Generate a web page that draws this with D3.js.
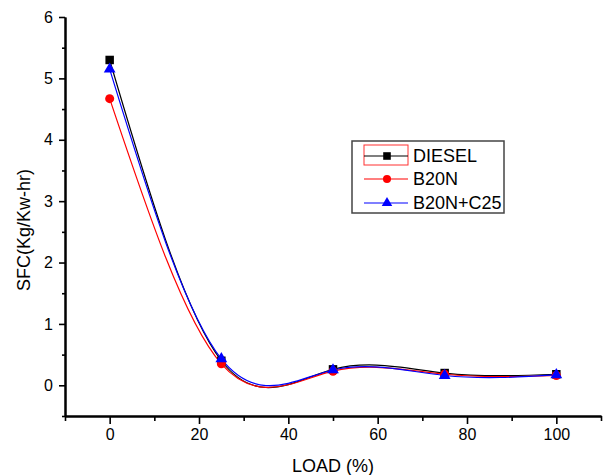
<!DOCTYPE html>
<html>
<head>
<meta charset="utf-8">
<script src="https://cdn.jsdelivr.net/npm/d3@7"></script>
<style>
  body { margin: 0; background: #fff; }
  text { font-family: "Liberation Sans", Arial, sans-serif; fill: #000; }
</style>
</head>
<body>
<div id="chart"></div>
<script>
"use strict";

const loads = [0, 25, 50, 75, 100];
const diesel = [5.3, 0.40, 0.26, 0.20, 0.18];
const b20n = [4.67, 0.35, 0.23, 0.18, 0.16];
const b20nC25 = [5.15, 0.43, 0.25, 0.16, 0.17];
const seriesNames = ["DIESEL", "B20N", "B20N+C25"];
const xMajor = [0, 20, 40, 60, 80, 100];
const xMinor = [-10, 10, 30, 50, 70, 90, 110];
const yMajor = [0, 1, 2, 3, 4, 5, 6];
const yMinor = [-0.5, 0.5, 1.5, 2.5, 3.5, 4.5, 5.5];

const W = 608, H = 475;
const svg = d3.select("#chart").append("svg")
    .attr("width", W).attr("height", H);

const x = d3.scaleLinear().domain([-10, 110]).range([65, 601]);
const y = d3.scaleLinear().domain([-0.5, 6]).range([416, 17]);

// axes
const styleAxis = function(g){
    g.select(".domain").attr("stroke", "#000").attr("stroke-width", 2);
    g.selectAll(".tick line").attr("stroke", "#000").attr("stroke-width", 1.6);
    g.selectAll(".tick text").style("font-size", "16px")
        .style("font-family", "Liberation Sans, Arial, sans-serif");
};

svg.append("g").attr("transform", "translate(0,416)")
    .call(d3.axisBottom(x).tickValues(xMinor).tickSize(5).tickSizeOuter(0).tickFormat(""))
    .call(styleAxis);
svg.append("g").attr("transform", "translate(0,416)")
    .call(d3.axisBottom(x).tickValues(xMajor).tickSize(8).tickSizeOuter(0).tickPadding(5)
        .tickFormat(d3.format("d")))
    .call(styleAxis);

svg.append("g").attr("transform", "translate(65,0)")
    .call(d3.axisLeft(y).tickValues(yMinor).tickSize(3).tickSizeOuter(0).tickFormat(""))
    .call(styleAxis);
svg.append("g").attr("transform", "translate(65,0)")
    .call(d3.axisLeft(y).tickValues(yMajor).tickSize(6).tickSizeOuter(0).tickPadding(6)
        .tickFormat(d3.format("d")))
    .call(styleAxis);

// axis titles
svg.append("text")
    .attr("x", 333).attr("y", 472)
    .attr("text-anchor", "middle")
    .style("font-size", "18px")
    .text("LOAD (%)");

svg.append("text")
    .attr("transform", "translate(30,230) rotate(-90)")
    .attr("text-anchor", "middle")
    .style("font-size", "18px")
    .text("SFC(Kg/Kw-hr)");

// series
const series = [
    {name: seriesNames[0], values: diesel, color: "#000000", symbol: d3.symbolSquare, size: 72},
    {name: seriesNames[1], values: b20n, color: "#ff0000", symbol: d3.symbolCircle, size: 64},
    {name: seriesNames[2], values: b20nC25, color: "#0000ff", symbol: d3.symbolTriangle, size: 60}
];

const line = d3.line()
    .x((d, i) => x(loads[i]))
    .y(d => y(d))
    .curve(d3.curveNatural);

series.forEach(function(s){
    svg.append("path")
        .datum(s.values)
        .attr("d", line)
        .attr("fill", "none")
        .attr("stroke", s.color)
        .attr("stroke-width", 1.2);
});

series.forEach(function(s){
    svg.append("g").selectAll("path")
        .data(s.values)
        .join("path")
        .attr("transform", (d, i) => "translate(" + x(loads[i]) + "," + y(d) + ")")
        .attr("d", d3.symbol().type(s.symbol).size(s.size))
        .attr("fill", s.color);
});

// legend
const legend = svg.append("g");
legend.append("rect")
    .attr("x", 352).attr("y", 141)
    .attr("width", 152).attr("height", 72)
    .attr("fill", "#fff")
    .attr("stroke", "#444")
    .attr("stroke-width", 1.5);

legend.append("rect")
    .attr("x", 364).attr("y", 145)
    .attr("width", 44).attr("height", 20)
    .attr("fill", "none")
    .attr("stroke", "#ff3030")
    .attr("stroke-width", 1);

const legY = [156, 179, 203];
series.forEach(function(s, i){
    legend.append("line")
        .attr("x1", 364).attr("x2", 408)
        .attr("y1", legY[i]).attr("y2", legY[i])
        .attr("stroke", s.color)
        .attr("stroke-width", 1.2);
    legend.append("path")
        .attr("transform", "translate(387," + legY[i] + ")")
        .attr("d", d3.symbol().type(s.symbol).size(s.size * 0.8))
        .attr("fill", s.color);
    legend.append("text")
        .attr("x", 413).attr("y", legY[i] + 6)
        .style("font-size", "18px")
        .text(s.name);
});
</script>
</body>
</html>
